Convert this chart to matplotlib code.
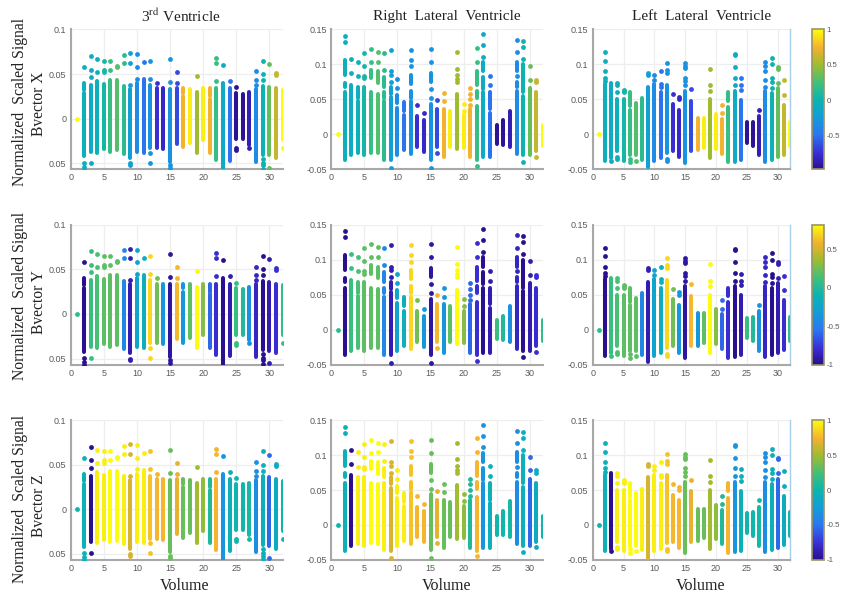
import numpy as np
import matplotlib
matplotlib.use('Agg')
import matplotlib.pyplot as plt
from matplotlib.colors import LinearSegmentedColormap, Normalize
from matplotlib.cm import ScalarMappable

W, H = 841, 597

# Values
titles = ['3$^{\\mathrm{rd}}$ Ventricle', 'Right  Lateral  Ventricle', 'Left  Lateral  Ventricle']
row_names = ['Bvector X', 'Bvector Y', 'Bvector Z']

# Bvector component per volume (1..32), this is the colour of each column
bvec_x = [1.0, -0.05, -0.1, -0.05, 0.05, 0.2, 0.3, 0.15, -0.2, -0.35, -0.5, -0.3, -0.75, -0.8, -0.3, -0.65,
          0.75, 0.95, 0.5, 0.95, 0.75, 0.2, -0.1, -0.5, -0.95, -0.95, -0.85, -0.35, 0.0, 0.35, 0.6, 1.0]
bvec_y = [0.05, -1.0, 0.1, 0.15, 0.2, 0.2, 0.2, -0.45, -0.9, -0.25, -0.15, 0.7, 0.25, -0.35, -0.95, 0.6,
          -0.35, 0.2, 0.82, 0.3, -0.6, -0.8, -1.0, -0.9, 0.1, 0.0, -0.4, -0.85, -1.0, -0.9, -0.8, 0.08]
bvec_z = [0.0, -0.05, -1.0, 0.95, 0.95, 1.0, 1.0, 0.95, 0.65, 0.95, 0.95, 0.8, 0.75, 0.75, 0.35, 0.7,
          0.35, 0.35, 0.5, 0.45, 0.1, 0.75, -0.3, -0.05, 0.02, 0.02, 0.05, -0.35, -0.05, -0.55, -0.1, 0.03]

# Solid runs of points (low, high) per volume
v3_spans = [[], [(-0.042, 0.029), (0.032, 0.040)], [(-0.037, 0.038)], [(-0.038, 0.042)], [(-0.034, 0.039)],
            [(-0.037, 0.043)], [(-0.035, 0.043)], [(-0.039, 0.037)], [(-0.044, 0.033)], [(-0.037, 0.040)],
            [(-0.038, 0.044)], [(-0.033, 0.038)], [(-0.033, 0.034)], [(-0.034, 0.034)], [(-0.048, 0.033)],
            [(-0.028, 0.034)], [(-0.032, 0.025), (0.029, 0.034)], [(-0.027, 0.033)], [(-0.038, 0.030)],
            [(-0.024, 0.034)], [(-0.038, 0.022), (0.025, 0.034)], [(-0.046, 0.034)], [(-0.057, 0.040)],
            [(-0.047, 0.034)], [(-0.023, 0.029)], [(-0.023, 0.028)], [(-0.029, 0.030)], [(-0.048, 0.033)],
            [(-0.040, 0.037)], [(-0.041, 0.036)], [(-0.044, 0.034)], [(-0.024, 0.032)]]
# Separate points per volume
v3_dots = [[0], [0.058, -0.049, -0.054, -0.057], [0.047, 0.055, 0.070, -0.049], [0.052, 0.067],
           [0.052, 0.055, 0.065], [0.055, 0.065], [0.058, 0.059], [0.062, 0.071],
           [0.038, 0.062, 0.073, -0.050, -0.052], [0.045, 0.058, 0.072], [0.063], [0.045, 0.065, -0.038, -0.049],
           [0.040], [], [0.041, 0.067, -0.052, -0.055], [0.040, 0.052], [], [], [0.048], [], [],
           [0.042, 0.062, 0.068], [0.060], [0.042], [0.035, -0.033, -0.035], [], [-0.033], [0.038, 0.043, 0.053],
           [0.043, 0.050, 0.065, -0.045, -0.049, -0.052, -0.056], [0.061, -0.055], [0.049, 0.051], [-0.033]]

rlv_spans = [[], [(-0.037, 0.060), (0.068, 0.074), (0.085, 0.106)], [(-0.030, 0.071)],
             [(-0.027, 0.048), (0.052, 0.068)], [(-0.030, 0.068)], [(-0.026, 0.060), (0.080, 0.092)],
             [(-0.027, 0.058), (0.073, 0.090)], [(-0.036, 0.047), (0.052, 0.060), (0.068, 0.082)],
             [(-0.037, 0.053), (0.058, 0.068)], [(-0.030, 0.038), (0.045, 0.056)], [(-0.023, 0.027), (0.033, 0.046)],
             [(-0.028, 0.047), (0.052, 0.062), (0.072, 0.085)], [(-0.018, 0.026)], [(-0.025, 0.020)],
             [(-0.036, 0.044), (0.075, 0.088)], [(-0.018, 0.036)], [(-0.033, 0.036)], [(-0.018, 0.033)],
             [(-0.021, 0.057)], [(-0.019, 0.027)], [(-0.033, 0.036)], [(-0.037, 0.040), (0.052, 0.062), (0.070, 0.090)],
             [(-0.033, 0.060), (0.065, 0.082), (0.090, 0.103)], [(-0.033, 0.031), (0.036, 0.060)], [(-0.014, 0.013)],
             [(-0.015, 0.020)], [(-0.018, 0.034)], [(-0.028, 0.062), (0.068, 0.075), (0.090, 0.104)],
             [(-0.030, 0.055), (0.060, 0.100)], [(-0.030, 0.066)], [(-0.024, 0.060)], [(-0.017, 0.013)]]
rlv_dots = [[0], [0.132, 0.141], [0.088, 0.108], [0.083, 0.104], [0.080, 0.083, 0.098, 0.116], [0.103, 0.122],
            [0.104, 0.118], [0.092, 0.116], [0.075, 0.085, 0.090, 0.121, -0.048], [0.066, 0.079], [],
            [0.097, 0.106, 0.121], [0.042], [0.030], [0.052, 0.065, 0.103, 0.122, -0.048], [0.049, -0.026],
            [0.047, 0.059], [], [0.075, 0.079, 0.085, 0.094, 0.118], [0.034, 0.044], [0.042, 0.050, 0.058, 0.066],
            [0.104, 0.124, -0.045], [0.111, 0.128, 0.143], [0.070, 0.084], [], [], [], [0.083, 0.117, 0.135],
            [0.108, 0.125, 0.133, -0.039], [0.078, 0.098], [0.075, 0.078, -0.032], []]

llv_spans = [[], [(-0.038, 0.072)], [(-0.034, 0.074)], [(-0.024, 0.050)], [(-0.038, 0.050)],
             [(-0.030, 0.035), (0.040, 0.060)], [(-0.030, 0.045)], [(-0.036, 0.052)], [(-0.047, 0.068)],
             [(-0.038, 0.072)], [(-0.034, 0.060)], [(-0.026, 0.071)], [(-0.024, 0.043)], [(-0.033, 0.035)],
             [(-0.041, 0.062)], [(-0.024, 0.048)], [(-0.023, 0.023)], [(-0.019, 0.023)], [(-0.034, 0.050)],
             [(-0.021, 0.029)], [(-0.028, 0.022)], [(-0.040, 0.039), (0.048, 0.060)], [(-0.039, 0.062)],
             [(-0.037, 0.049)], [(-0.012, 0.017)], [(-0.016, 0.018)], [(-0.030, 0.026)], [(-0.039, 0.062)],
             [(-0.036, 0.059)], [(-0.033, 0.066)], [(-0.029, 0.042)], [(-0.016, 0.018)]]
llv_dots = [[0], [0.076, 0.081, 0.090, 0.105, 0.117], [-0.038], [0.060, 0.070, 0.074, -0.032, -0.035],
            [0.060, 0.062, 0.064], [-0.035, -0.040], [-0.038], [], [0.085, 0.088], [0.078, 0.085],
            [0.068, 0.072, 0.090], [0.088, 0.092, 0.102, -0.035, -0.038], [0.058], [0.050, 0.054],
            [0.070, 0.076, 0.081, 0.095, 0.098, 0.102], [0.065], [], [], [0.062, 0.070, 0.093], [], [0.030, 0.042], [],
            [0.070, 0.081, 0.096, 0.113, 0.115], [0.063, 0.070, 0.080], [], [], [0.035],
            [0.068, 0.078, 0.090, 0.097, 0.103], [0.066, 0.075, 0.080, 0.100, 0.109], [0.074, 0.094, 0.096],
            [0.056, 0.077], []]

cbar_ranges = [(-0.98, 1.0), (-1.0, 0.82), (-1.0, 1.0)]

# parula-like colormap, stops taken from the colorbar in the picture
parula = LinearSegmentedColormap.from_list('parula', [(0.0, '#2a0f8e'), (0.12, '#3a30d8'), (0.25, '#2a78f0'),
                                                      (0.38, '#129ed8'), (0.5, '#0cb4b0'), (0.62, '#40c07a'),
                                                      (0.75, '#a0bc30'), (0.87, '#f4b030'), (1.0, '#fcfc0c')])

plt.rcParams['font.family'] = 'Liberation Sans'
plt.rcParams['mathtext.fontset'] = 'stix'
fig = plt.figure(figsize=(W / 100, H / 100), dpi=100)


# rectangle in picture pixels -> figure fractions
def px_axes(x0, x1, ytop, ybot):
    return fig.add_axes([x0 / W, 1 - ybot / H, (x1 - x0) / W, (ybot - ytop) / H])


columns = [(70.7, 282.6), (331.3, 543), (592.7, 790)]
rows = [(29.3, 169.3), (224.5, 364.5), (420.3, 559.7)]
spans_all = [v3_spans, rlv_spans, llv_spans]
dots_all = [v3_dots, rlv_dots, llv_dots]
bvecs = [bvec_x, bvec_y, bvec_z]
volumes = np.arange(1, 33)

for r, (ytop, ybot) in enumerate(rows):
    norm = Normalize(*cbar_ranges[r])
    for c, (x0, x1) in enumerate(columns):
        ax = px_axes(x0, x1, ytop, ybot)
        ax.set_axisbelow(True)
        for vol, val, spans, dots in zip(volumes, bvecs[r], spans_all[c], dots_all[c]):
            color = parula(norm(val))
            for low, high in spans:
                ax.vlines(vol, low, high, color=color, lw=2.9, capstyle='round', zorder=3)
            if dots:
                ax.scatter([vol] * len(dots), dots, s=12, color=color, linewidths=0, zorder=3)
        ax.set_xlim(0, 32)
        ax.set_xticks(range(0, 31, 5))
        if c == 0:
            ax.set_ylim(-0.0565, 0.1)
            ax.set_yticks([-0.05, 0, 0.05, 0.1])
            ax.set_yticklabels(['0.05', '0', '0.05', '0.1'])
        else:
            ax.set_ylim(-0.05, 0.15)
            ax.set_yticks([-0.05, 0, 0.05, 0.1, 0.15])
            ax.set_yticklabels(['-0.05', '0', '0.05', '0.1', '0.15'])
        ax.grid(True, color='#eeeeee', lw=0.9)
        ax.tick_params(length=0, labelsize=6.5, labelcolor='#5a5a5a', pad=3)
        ax.spines['top'].set_visible(False)
        ax.spines['right'].set_visible(c == 2)
        ax.spines['right'].set_color('#a9cfe8')
        ax.spines['right'].set_linewidth(1.0)
        ax.spines['left'].set_color('#a8a8a8')
        ax.spines['bottom'].set_color('#a8a8a8')
        ax.spines['left'].set_linewidth(1.5)
        ax.spines['bottom'].set_linewidth(1.5)

    cax = px_axes(811.7, 824, ytop, ybot)
    cb = fig.colorbar(ScalarMappable(norm=norm, cmap=parula), cax=cax)
    ticks = [t for t in [-1, -0.5, 0, 0.5, 1] if cbar_ranges[r][0] <= t <= cbar_ranges[r][1]]
    cb.set_ticks(ticks)
    cb.set_ticklabels([f'{t:g}' for t in ticks])
    cb.ax.tick_params(length=0, labelsize=5.7, labelcolor='#5a5a5a', pad=2)
    cb.outline.set_edgecolor('#9a9468')
    cb.outline.set_linewidth(1.2)

serif = 'Liberation Serif'
for label, x in zip(titles, [181, 447, 702]):
    fig.text(x / W, 1 - 16.5 / H, label, ha='center', va='center', family=serif, fontsize=11, color='#222222')
for x in [185, 447, 701]:
    fig.text(x / W, 1 - 586 / H, 'Volume', ha='center', va='center', family=serif, fontsize=11.5, color='#222222')
for label, y1, y2 in zip(row_names, [102, 296, 499], [104, 302, 506]):
    fig.text(20 / W, 1 - y1 / H, 'Normalized  Scaled Signal', rotation=90, ha='center', va='center',
             family=serif, fontsize=11.3, color='#222222')
    fig.text(39 / W, 1 - y2 / H, label, rotation=90, ha='center', va='center',
             family=serif, fontsize=11.2, color='#222222')

fig.savefig('out.png', dpi=100)
